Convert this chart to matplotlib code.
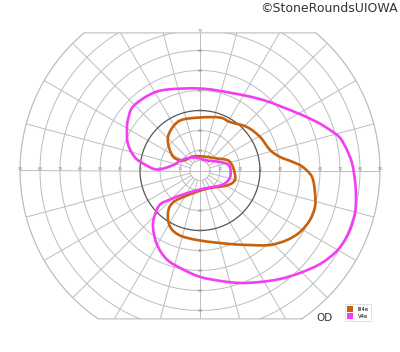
import numpy as np
import matplotlib
matplotlib.use("Agg")
import matplotlib.pyplot as plt
from matplotlib.path import Path
from matplotlib.patches import PathPatch, Patch

# ---- data: isopters as (meridian angle in degrees, eccentricity in degrees) ----
v4e_angle = [90, 68.9, 48.2, 30.7, 22.5, 17.3, 13.1, 7.9, 2.8, -3.5, -9.6, -15.3, -21.6,
             -26.9, -31.5, -37.9, -45.7, -53.6, -61.7, -70.4, -79.7, -90, -99.7, -110.3,
             -120.2, -130, -135.6, -139.6, -136, -125.3, -90, -59.5, -31.3, -13.1, 5.7,
             15, 27.9, 55, 90, 118, 147, 170, 178.7, 173.8, 168.7, 160, 150.7, 144.7,
             136.3, 123.3, 112.2]
v4e_ecc = [41, 41.7, 47.3, 56.4, 63.3, 68.1, 71.9, 74.2, 76.1, 77.6, 79.1, 80.4, 80.7,
           80.2, 79.0, 76.1, 71.6, 67.4, 63.3, 59.7, 56.1, 53.2, 50.2, 47.5,
           42.8, 36.6, 31.5, 26.2, 20.9, 14.7, 9.5, 9.9, 13.5, 15.4, 15.1,
           13.5, 9.6, 6.1, 6, 7.4, 10.1, 14.2, 21.5, 27.7, 33.1, 38.3, 41.9, 44.1,
           46.3, 45.5, 43.7]

iii4e_angle = [90, 69.3, 58.3, 42.8, 29.2, 16.3, 9.6, 5.2, 1.9, -3.3, -11.1, -17.6, -24.2,
               -31.6, -38.6, -46.8, -56.1, -67.8, -90, -107.1, -118.2, -127.3, -130.2,
               -117.5, -69, -29, -14.4, 5.2, 19.7, 35.2, 77.9, 116.6, 149.5, 152.6,
               138.8, 127.6, 111.8]
iii4e_ecc = [26.5, 28.3, 28.5, 32.0, 34.4, 36.5, 40.6, 46.7, 51.5, 56.1, 58.6, 60.3, 60.3,
             58.7, 55.7, 51.1, 44.9, 39.7, 35, 34, 31.8, 26.4, 20.9,
             14.1, 9.7, 15.4, 18.1, 16.6, 14.9, 10.4, 7.2, 7.8, 9.9, 15.2,
             21.3, 24.6, 26.9]

series_names = ["III4e", "V4e"]
series_colors = ["#C8600C", "#F53CF5"]

ring_values = [10, 20, 30, 40, 50, 60, 70, 80, 90]
horiz_labels = ["10", "20", "30", "40", "50", "60", "70", "80", "90"]
vert_labels = ["10", "20", "30", "40", "50", "60", "70"]
meridians = list(range(0, 360, 15))

title_text = "©StoneRoundsUIOWA"
eye_text = "OD"


def closed_smooth_path(x, y):
    """Closed Catmull-Rom curve through the points, as cubic Bezier segments."""
    pts = np.column_stack([x, y])
    n = len(pts)
    verts = [pts[0]]
    codes = [Path.MOVETO]
    for i in range(n):
        p0, p1, p2, p3 = pts[(i - 1) % n], pts[i], pts[(i + 1) % n], pts[(i + 2) % n]
        c1 = p1 + (p2 - p0) / 6.0
        c2 = p2 - (p3 - p1) / 6.0
        verts += [c1, c2, p2]
        codes += [Path.CURVE4] * 3
    return Path(np.array(verts), codes)


# ---- figure ----
fig = plt.figure(figsize=(4.0, 3.52), dpi=100)
ax = fig.add_axes([0, 0, 1, 1])
ax.set_xlim(-100, 100)
ax.set_ylim(-90.75, 85.25)
ax.set_aspect("equal")
ax.axis("off")

R = 90
ytop, ybot = 68.8, -74.2

a_top = np.degrees(np.arcsin(ytop / R))
a_bot = np.degrees(np.arcsin(ybot / R))
right_arc = np.radians(np.linspace(a_bot, a_top, 200))
left_arc = np.radians(np.linspace(180 - a_top, 180 - a_bot, 200))
bx = np.concatenate([R * np.cos(right_arc), R * np.cos(left_arc), [R * np.cos(right_arc[0])]])
by = np.concatenate([R * np.sin(right_arc), R * np.sin(left_arc), [R * np.sin(right_arc[0])]])
clip_path = Path(np.column_stack([bx, by]))
clip_patch = PathPatch(clip_path, facecolor="none", edgecolor="none")
ax.add_patch(clip_patch)

grid_color = "#BDBDBD"
th = np.linspace(0, 2 * np.pi, 400)
ax.plot(5 * np.cos(th), 5 * np.sin(th), color=grid_color, lw=0.7, zorder=1)
for r in ring_values:
    col = "#555555" if r == 30 else grid_color
    lw = 0.9 if r == 30 else 0.7
    ln, = ax.plot(r * np.cos(th), r * np.sin(th), color=col, lw=lw, zorder=1 if r != 30 else 2)
    ln.set_clip_path(clip_patch)
for m in meridians:
    a = np.radians(m)
    r0 = 0 if m % 90 == 0 else 5
    ln, = ax.plot([r0 * np.cos(a), R * np.cos(a)], [r0 * np.sin(a), R * np.sin(a)],
                  color=grid_color, lw=0.7, zorder=1)
    ln.set_clip_path(clip_patch)
ax.plot(bx, by, color=grid_color, lw=0.8, zorder=1)

for r, lab in zip(ring_values, horiz_labels):
    ax.text(r, 0.6, lab, fontsize=3.0, color="#8C8C8C", ha="center", va="center", zorder=3)
    ax.text(-r, 0.6, lab, fontsize=3.0, color="#8C8C8C", ha="center", va="center", zorder=3)
for r, lab in zip(ring_values, vert_labels):
    ax.text(0, r, lab, fontsize=3.0, color="#8C8C8C", ha="center", va="center", zorder=3)
    ax.text(0, -r, lab, fontsize=3.0, color="#8C8C8C", ha="center", va="center", zorder=3)

for ang, ecc, col in [(iii4e_angle, iii4e_ecc, series_colors[0]),
                      (v4e_angle, v4e_ecc, series_colors[1])]:
    a = np.radians(np.array(ang))
    e = np.array(ecc)
    p = closed_smooth_path(e * np.cos(a), e * np.sin(a))
    ax.add_patch(PathPatch(p, facecolor="none", edgecolor=col, lw=1.9, zorder=4,
                           joinstyle="round"))

fig.text(0.995, 0.975, title_text, fontsize=9, color="#333333", ha="right", va="center")
fig.text(0.812, 0.096, eye_text, fontsize=7.5, color="#333333", ha="center", va="center")

handles = [Patch(facecolor=c, edgecolor="none", label=n) for n, c in zip(series_names, series_colors)]
leg = fig.legend(handles=handles, loc="upper left", bbox_to_anchor=(345 / 400, 1 - 304 / 352),
                 fontsize=3.8, frameon=True, fancybox=False, edgecolor="#CCCCCC",
                 borderpad=0.4, handlelength=1.2, handleheight=1.3, labelspacing=0.2,
                 handletextpad=0.8, borderaxespad=0)
leg.get_frame().set_linewidth(0.5)

fig.savefig("out.png", dpi=100)
